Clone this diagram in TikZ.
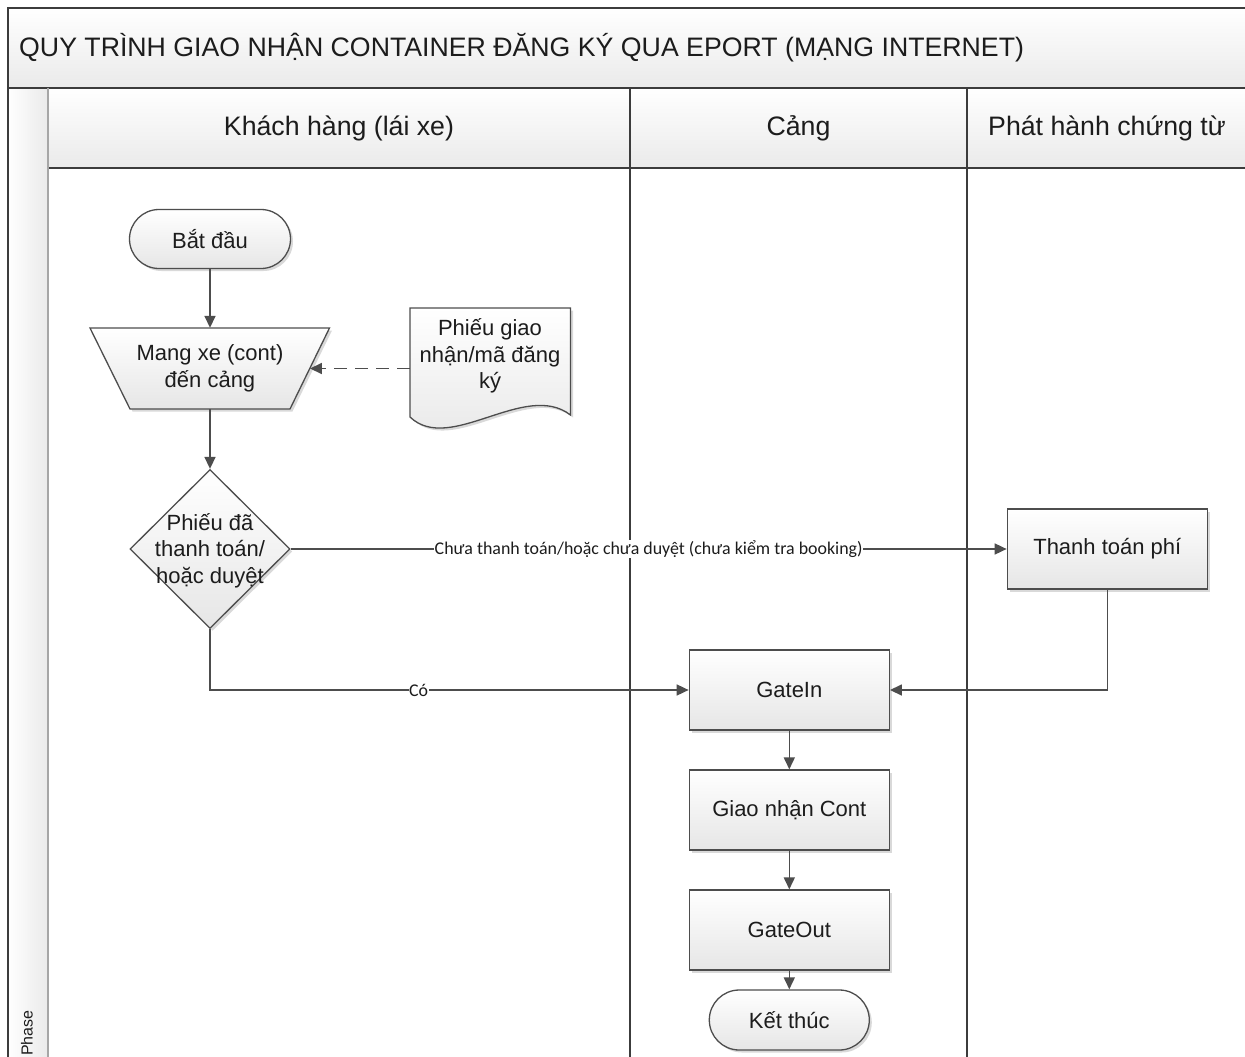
\documentclass[tikz,border=0pt]{standalone}
\usepackage{fontspec}
\setmainfont{Liberation Sans}
\newfontfamily\lblfont{Carlito}
\usetikzlibrary{arrows.meta,shapes.geometric,shadows}
\definecolor{linec}{HTML}{4D4D4D}
\definecolor{lanec}{HTML}{3C3C3C}
\definecolor{shapefill}{HTML}{E6E6E6}
\definecolor{bandfill}{HTML}{EAEAEA}
\definecolor{txt}{HTML}{1C1C1C}
\begin{document}
\begin{tikzpicture}[x=1pt,y=-1pt,
  every node/.style={text=txt},
  shp/.style={draw=linec, line width=1.3pt, top color=white, bottom color=shapefill,
    drop shadow={shadow xshift=2.5pt, shadow yshift=-2.5pt, opacity=0.15, fill=black},
    font=\fontsize{22}{26.5}\selectfont, align=center},
  procbox/.style={shp, rectangle, minimum width=200pt, minimum height=80pt, inner sep=0pt},
  termbox/.style={shp, rectangle, rounded corners=29.5pt, minimum width=161pt, minimum height=59pt, inner sep=0pt},
  nodetext/.style={font=\fontsize{22}{26.5}\selectfont, align=center, inner sep=0pt},
  flow/.style={draw=linec, line width=1.6pt, -{Triangle[length=12pt,width=11pt]}},
  lbl/.style={font=\lblfont\fontsize{17.9}{19}\selectfont, fill=white, inner sep=0.5pt},
  headtext/.style={font=\fontsize{26.7}{30}\selectfont},
  laneline/.style={draw=lanec, line width=1.5pt}
]
\useasboundingbox (0,0) rectangle (1245,1057);
\fill[white] (0,0) rectangle (1245,1057);
% bands
\shade[top color=white, bottom color=bandfill] (8,8) rectangle (1262,88);
\shade[top color=white, bottom color=bandfill] (48,88) rectangle (1262,168);
\shade[left color=white, right color=bandfill] (8,88) rectangle (48,1070);
\draw[laneline] (8,1070) -- (8,8) -- (1262,8);
\draw[laneline] (8,88) -- (1262,88);
\draw[laneline] (48,168) -- (1262,168);
\draw[draw=gray!70, line width=2.5pt] (48,88) -- (48,1070);
\draw[laneline] (630,88) -- (630,1070);
\draw[laneline] (967,88) -- (967,1070);
\node[headtext, anchor=west, inner sep=0pt] (title) at (19,48) {QUY TRÌNH GIAO NHẬN CONTAINER ĐĂNG KÝ QUA EPORT (MẠNG INTERNET)};
\node[headtext] (h1) at (339,128) {Khách hàng (lái xe)};
\node[headtext] (h2) at (798.5,128) {Cảng};
\node[headtext] (h3) at (1107,128) {Phát hành chứng từ};
\node[rotate=90, anchor=west, inner sep=0pt, font=\fontsize{16}{18}\selectfont] (phase) at (27,1056) {Phase};
% shapes
\node[termbox] (start) at (210,239) {Bắt đầu};
\path[shp] (90,328) -- (329.5,328) -- (290,409) -- (130,409) -- cycle;
\node[nodetext, minimum width=199.5pt, minimum height=81pt] (trap) at (210,368.5) {Mang xe (cont)\\đến cảng};
\node[minimum width=160pt, minimum height=109pt, inner sep=0pt] (doc) at (490,362.5) {};
\path[shp] (410,308) -- (570.5,308) -- (570.5,415) .. controls (525,380) and (450,455) .. (410,417) -- cycle;
\node[nodetext] (doctext) at (490,356) {Phiếu giao\\nhận/mã đăng\\ký};
\node[shp, diamond, minimum width=160pt, minimum height=159pt, inner sep=0pt] (dec) at (210,549) {};
\node[nodetext] (dectext) at (210,550.5) {Phiếu đã\\thanh toán/\\hoặc duyệt};
\node[procbox] (pay) at (1107.3,549) {Thanh toán phí};
\node[procbox] (gin) at (789.3,690) {GateIn};
\node[procbox] (gnc) at (789.3,810) {Giao nhận Cont};
\node[procbox] (gout) at (789.3,930) {GateOut};
\node[termbox, minimum width=160pt, minimum height=60pt, rounded corners=30pt] (end) at (789.3,1020) {Kết thúc};
% connectors
\draw[flow] (start) -- (trap);
\draw[flow, dash pattern=on 13pt off 8pt] (doc.west |- trap.center) -- (trap);
\draw[flow] (trap) -- (dec);
\draw[flow] (dec.east) -- node[lbl] {Chưa thanh toán/hoặc chưa duyệt (chưa kiểm tra booking)} (pay.west);
\draw[flow] (dec.south) |- node[lbl, pos=0.718] {Có} (gin.west);
\draw[flow] (pay.south) |- (gin.east);
\draw[flow] (gin) -- (gnc);
\draw[flow] (gnc) -- (gout);
\draw[flow] (gout) -- (end);
\end{tikzpicture}
\end{document}
